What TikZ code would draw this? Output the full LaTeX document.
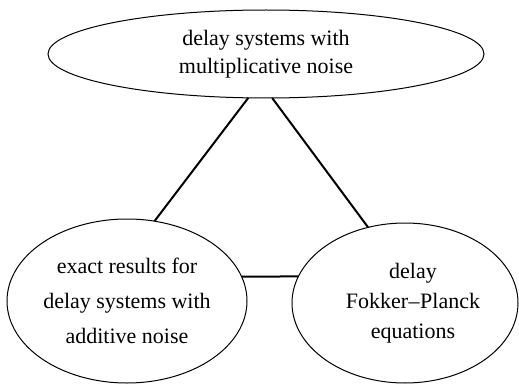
\documentclass[tikz,border=0pt]{standalone}
\usepackage{fontspec}
\setmainfont{Liberation Serif}
\usetikzlibrary{shapes.geometric}
\begin{document}
\begin{tikzpicture}[x=1pt,y=-1pt,
  bubble/.style={ellipse,draw,line width=1pt,inner sep=0pt,outer sep=0pt,align=center,
    font=\fontsize{22}{28}\selectfont},
  link/.style={line width=2pt}]
\useasboundingbox (0,0) rectangle (519,385);
\node[bubble,minimum width=436pt,minimum height=88pt] (top) at (266,54)
  {delay systems with\\multiplicative noise};
\node[bubble,minimum width=240pt,minimum height=164pt,font=\fontsize{22}{35}\selectfont] (left) at (127,301)
  {exact results for\\delay systems with\\additive noise};
\node[bubble,minimum width=226pt,minimum height=160pt,font=\fontsize{22}{30}\selectfont] (right) at (405,303)
  {\hspace*{16pt}delay\\\hspace*{16pt}Fokker\kern0.5pt{\char"2013}\kern0.5pt Planck\\\hspace*{16pt}equations};
\draw[link] (top.248) -- (left.71);
\draw[link] (top.278) -- (right.116);
\draw[link] (left.12) -- (right.166);
\end{tikzpicture}
\end{document}
